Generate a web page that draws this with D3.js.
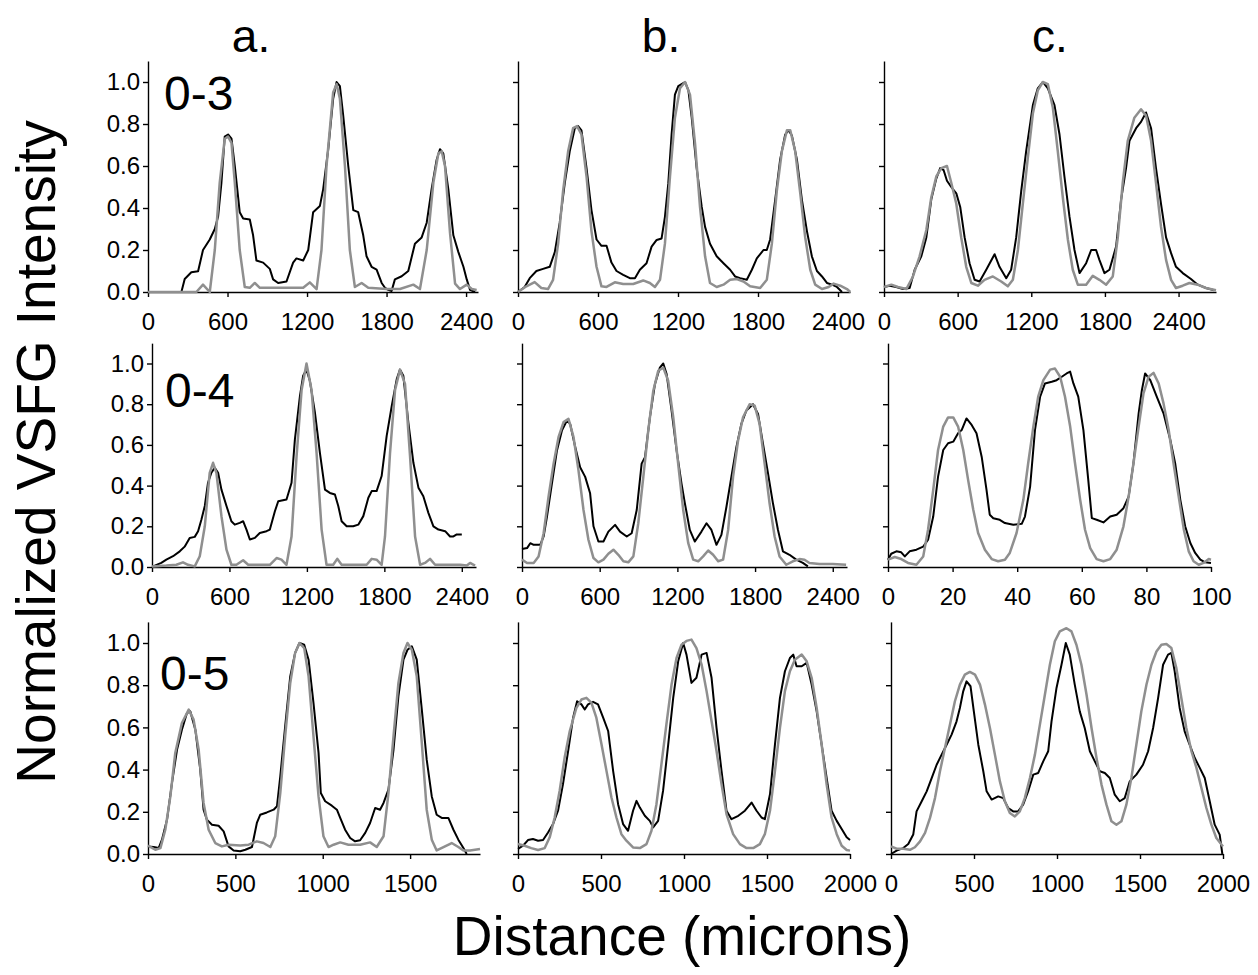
<!DOCTYPE html>
<html>
<head>
<meta charset="utf-8">
<script src="https://cdn.jsdelivr.net/npm/d3@7"></script>
<style>
  body { margin: 0; background: #fff; }
  svg { display: block; font-family: 'Liberation Sans', Arial, sans-serif; }
  .axis path, .axis line { stroke: #000; stroke-width: 1.4; }
  .axis text { font-family: 'Liberation Sans', Arial, sans-serif; font-size: 24px; fill: #000; }
</style>
</head>
<body>
<div id="chart"></div>
<script>
// tick labels
const yTicks = [0, 0.2, 0.4, 0.6, 0.8, 1.0];
const ticks600 = [0, 600, 1200, 1800, 2400];
const ticks500 = [0, 500, 1000, 1500];
const ticks500b = [0, 500, 1000, 1500, 2000];
const ticks20 = [0, 20, 40, 60, 80, 100];
const colTitles = ['a.', 'b.', 'c.'];
const rowLabels = ['0-3', '0-4', '0-5'];

// series: [distance, normalized intensity]
const a1Black = [[0,0],[252,0],[277,.062],[327,.094],[378,.099],[415,.2],[466,.25],[504,.3],[529,.36],[554,.52],[579,.74],[604,.75],[630,.73],[655,.6],[692,.38],[718,.35],[768,.345],[793,.27],[818,.15],[869,.14],[919,.11],[944,.06],[982,.043],[1045,.05],[1095,.14],[1120,.16],[1171,.15],[1209,.2],[1246,.38],[1297,.41],[1322,.49],[1360,.68],[1397,.92],[1423,1.0],[1448,.98],[1473,.84],[1511,.6],[1549,.39],[1586,.38],[1624,.27],[1649,.17],[1687,.12],[1725,.107],[1763,.043],[1788,.02],[1813,.01],[1838,.005],[1863,.06],[1914,.075],[1964,.1],[2014,.23],[2065,.26],[2103,.33],[2140,.49],[2178,.63],[2203,.68],[2228,.66],[2266,.49],[2304,.27],[2342,.19],[2380,.12],[2405,.06],[2430,.01],[2468,0]];
const a1Gray = [[0,0],[365,0],[415,.035],[466,0],[504,.2],[541,.52],[579,.73],[604,.74],[630,.71],[655,.52],[692,.2],[730,.024],[768,.02],[806,.043],[844,.02],[944,.02],[1045,.02],[1171,.02],[1221,.046],[1272,.014],[1309,.2],[1347,.6],[1397,.95],[1423,.99],[1448,.92],[1486,.6],[1523,.2],[1561,.024],[1612,.043],[1662,.02],[1800,.014],[1901,.014],[2002,.035],[2052,.014],[2103,.2],[2153,.52],[2191,.66],[2216,.67],[2241,.6],[2279,.28],[2317,.04],[2354,.014],[2405,.035],[2443,.014],[2480,.01]];

const b1Black = [[0,0],[50,.024],[88,.066],[138,.1],[188,.11],[238,.12],[276,.19],[313,.33],[351,.52],[388,.67],[426,.78],[451,.79],[476,.77],[514,.59],[551,.39],[589,.25],[626,.22],[664,.22],[701,.14],[739,.1],[789,.082],[839,.066],[877,.066],[914,.106],[964,.137],[1002,.216],[1040,.248],[1077,.255],[1102,.358],[1127,.516],[1152,.75],[1177,.94],[1202,.98],[1227,.99],[1253,1.0],[1278,.96],[1303,.83],[1340,.59],[1378,.405],[1403,.31],[1440,.23],[1490,.17],[1541,.137],[1591,.106],[1628,.074],[1666,.066],[1716,.058],[1754,.106],[1791,.16],[1841,.2],[1866,.2],[1891,.25],[1929,.44],[1966,.63],[2004,.75],[2029,.77],[2054,.745],[2092,.63],[2129,.44],[2167,.29],[2204,.17],[2242,.1],[2280,.074],[2317,.043],[2355,.035],[2392,.024],[2430,0]];
const b1Gray = [[0,0],[63,.027],[125,.047],[175,.019],[225,.014],[263,.058],[301,.23],[338,.48],[376,.67],[413,.78],[443,.79],[476,.75],[514,.55],[551,.29],[589,.12],[626,.027],[664,.024],[726,.046],[789,.038],[864,.038],[939,.055],[989,.043],[1027,.024],[1065,.058],[1102,.23],[1140,.55],[1177,.83],[1215,.97],[1253,1.0],[1290,.94],[1328,.705],[1365,.405],[1403,.17],[1440,.043],[1490,.024],[1541,.035],[1591,.058],[1641,.062],[1691,.05],[1741,.027],[1816,.019],[1866,.058],[1904,.23],[1941,.48],[1979,.67],[2017,.77],[2042,.77],[2079,.67],[2117,.47],[2154,.26],[2192,.106],[2229,.035],[2280,.014],[2330,.024],[2367,.04],[2417,.03],[2467,.014],[2492,0]];

const c1Black = [[0,.024],[46,.03],[100,.024],[155,.014],[209,.019],[250,.106],[304,.17],[345,.26],[385,.44],[426,.54],[458,.59],[486,.58],[513,.53],[548,.5],[589,.47],[621,.405],[657,.26],[697,.137],[738,.058],[779,.05],[833,.106],[901,.18],[941,.12],[996,.066],[1036,.106],[1077,.26],[1118,.48],[1158,.67],[1213,.89],[1253,.97],[1294,1.0],[1335,.97],[1389,.89],[1430,.75],[1470,.55],[1511,.36],[1552,.2],[1593,.09],[1647,.137],[1688,.2],[1728,.2],[1755,.153],[1796,.09],[1837,.106],[1891,.216],[1932,.44],[1972,.59],[2000,.72],[2054,.78],[2094,.81],[2135,.855],[2176,.78],[2216,.59],[2257,.42],[2298,.26],[2339,.185],[2379,.12],[2434,.09],[2501,.062],[2556,.035],[2623,.019],[2691,.008]];
const c1Gray = [[0,.024],[60,.035],[114,.024],[182,.014],[236,.074],[290,.17],[345,.295],[385,.45],[426,.55],[467,.59],[513,.6],[548,.52],[589,.42],[629,.26],[670,.12],[711,.043],[765,.03],[819,.058],[887,.074],[955,.05],[1009,.027],[1050,.058],[1091,.2],[1131,.42],[1172,.64],[1213,.85],[1253,.96],[1294,1.0],[1335,.99],[1375,.88],[1416,.67],[1457,.45],[1498,.25],[1538,.106],[1579,.035],[1647,.035],[1701,.077],[1755,.058],[1810,.035],[1864,.074],[1905,.26],[1945,.52],[1986,.72],[2040,.83],[2094,.87],[2135,.84],[2176,.72],[2216,.52],[2257,.31],[2298,.153],[2339,.058],[2379,.019],[2434,.03],[2488,.043],[2556,.035],[2623,.019],[2705,.008]];

const a2Black = [[8,.003],[72,.02],[111,.036],[163,.053],[215,.077],[253,.1],[292,.143],[331,.148],[357,.176],[383,.233],[409,.3],[434,.414],[460,.463],[486,.488],[512,.463],[538,.38],[577,.3],[615,.225],[641,.208],[680,.217],[706,.225],[732,.184],[758,.135],[797,.143],[835,.167],[887,.176],[913,.184],[952,.274],[978,.323],[1042,.332],[1081,.414],[1107,.627],[1146,.84],[1171,.94],[1197,.97],[1223,.915],[1262,.76],[1301,.56],[1340,.38],[1378,.364],[1417,.356],[1443,.3],[1469,.225],[1508,.2],[1559,.2],[1598,.208],[1637,.25],[1676,.34],[1702,.373],[1740,.373],[1779,.447],[1818,.644],[1857,.79],[1896,.923],[1921,.97],[1947,.94],[1986,.71],[2025,.512],[2064,.39],[2102,.348],[2141,.266],[2180,.2],[2219,.184],[2271,.176],[2309,.15],[2335,.15],[2361,.16],[2400,.16]];
const a2Gray = [[0,.003],[111,.007],[189,.011],[240,.023],[279,.011],[331,.003],[370,.053],[409,.2],[447,.463],[473,.512],[499,.463],[538,.25],[577,.085],[615,.011],[654,.011],[706,.033],[745,.011],[835,.011],[913,.011],[965,.044],[1003,.036],[1042,.011],[1081,.15],[1120,.545],[1159,.87],[1197,1.0],[1236,.87],[1275,.56],[1314,.184],[1352,.011],[1404,.011],[1435,.04],[1469,.011],[1559,.011],[1663,.011],[1702,.04],[1740,.036],[1779,.011],[1805,.15],[1844,.56],[1883,.87],[1921,.97],[1960,.9],[1999,.545],[2038,.15],[2077,.011],[2115,.02],[2154,.04],[2193,.011],[2283,.011],[2335,.011],[2387,.011],[2439,.007],[2464,.02],[2503,.007]];

const b2Black = [[0,.088],[39,.093],[64,.117],[90,.109],[141,.109],[167,.15],[193,.248],[231,.41],[270,.573],[308,.67],[347,.72],[372,.703],[411,.59],[449,.49],[488,.443],[526,.362],[552,.2],[590,.125],[629,.125],[667,.174],[719,.207],[757,.174],[809,.15],[847,.166],[886,.28],[924,.508],[950,.54],[988,.736],[1027,.9],[1065,.98],[1091,1.0],[1117,.948],[1155,.77],[1194,.573],[1232,.41],[1258,.313],[1296,.182],[1335,.125],[1386,.174],[1425,.215],[1463,.182],[1502,.109],[1540,.158],[1579,.296],[1617,.443],[1656,.59],[1694,.703],[1733,.769],[1784,.8],[1823,.752],[1861,.606],[1900,.46],[1938,.313],[1977,.182],[2015,.077],[2066,.06],[2118,.036],[2169,.02],[2208,.003]];
const b2Gray = [[0,.036],[39,.02],[90,.02],[128,.052],[167,.166],[205,.345],[244,.508],[282,.638],[321,.712],[359,.728],[398,.638],[436,.476],[475,.28],[513,.134],[552,.044],[590,.023],[629,.036],[667,.065],[706,.085],[744,.06],[783,.028],[821,.023],[860,.052],[898,.215],[937,.443],[975,.67],[1014,.866],[1052,.964],[1091,.98],[1129,.915],[1168,.736],[1206,.508],[1245,.28],[1284,.117],[1322,.036],[1361,.028],[1399,.052],[1438,.081],[1476,.06],[1515,.028],[1553,.036],[1592,.182],[1630,.443],[1669,.622],[1707,.736],[1758,.8],[1797,.793],[1835,.703],[1874,.508],[1912,.313],[1951,.15],[1989,.052],[2041,.011],[2092,.028],[2143,.039],[2182,.036],[2220,.02],[2297,.015],[2400,.015],[2503,.011]];

const c2Black = [[0,.036],[1.0,.065],[2.6,.077],[4.1,.072],[5.2,.052],[6.7,.077],[8.8,.085],[10.9,.1],[12.4,.134],[14.0,.248],[15.5,.444],[17.1,.575],[18.6,.608],[20.2,.616],[21.7,.657],[22.8,.673],[24.3,.73],[25.9,.698],[27.4,.657],[29.0,.542],[30.5,.379],[31.5,.257],[32.6,.24],[34.6,.232],[36.2,.216],[38.8,.208],[41.4,.212],[42.4,.248],[44.0,.395],[45.5,.673],[47.1,.837],[48.6,.902],[50.7,.91],[52.2,.918],[53.8,.935],[55.3,.951],[56.4,.96],[57.4,.902],[58.9,.837],[60.5,.673],[62.0,.428],[63.1,.24],[64.6,.232],[66.7,.219],[68.8,.248],[70.8,.257],[72.9,.289],[74.5,.346],[76.0,.51],[77.6,.755],[78.6,.869],[79.6,.951],[81.2,.918],[83.2,.837],[85.3,.755],[87.4,.624],[88.9,.51],[90.5,.33],[92.0,.2],[93.6,.118],[95.1,.069],[96.7,.036],[98.2,.023],[100,.02]];
const c2Gray = [[0,.036],[2.1,.049],[4.1,.039],[6.2,.02],[8.8,.011],[10.9,.052],[12.4,.183],[14.0,.379],[15.5,.575],[17.1,.69],[18.6,.735],[20.2,.735],[21.7,.69],[23.3,.575],[24.8,.428],[26.4,.281],[27.9,.167],[30.0,.085],[32.1,.039],[34.1,.028],[36.2,.036],[37.7,.069],[39.8,.167],[41.9,.33],[43.4,.51],[45.0,.69],[46.5,.837],[48.1,.918],[50.2,.97],[51.7,.975],[53.3,.935],[54.8,.837],[56.4,.69],[57.9,.51],[59.5,.33],[61.0,.183],[62.6,.093],[64.6,.039],[66.7,.028],[68.8,.039],[70.8,.085],[72.9,.2],[74.5,.346],[76.0,.51],[77.6,.69],[79.1,.853],[80.7,.935],[82.2,.954],[83.8,.902],[85.3,.804],[86.9,.673],[88.4,.51],[90.0,.346],[91.6,.183],[93.1,.077],[94.6,.028],[96.2,.011],[97.7,.02],[99.3,.039],[100,.036]];

const a3Black = [[0,.036],[32,.033],[61,.028],[80,.068],[109,.163],[137,.336],[166,.494],[194,.589],[223,.668],[242,.676],[271,.589],[299,.4],[318,.21],[337,.163],[366,.139],[404,.134],[433,.107],[461,.036],[490,.017],[528,.013],[557,.02],[595,.033],[623,.147],[642,.186],[680,.197],[719,.21],[738,.226],[757,.368],[785,.605],[814,.842],[842,.953],[867,1.0],[894,.992],[919,.921],[947,.716],[976,.479],[989,.289],[1014,.25],[1052,.229],[1081,.21],[1100,.171],[1128,.115],[1157,.076],[1185,.06],[1214,.065],[1243,.1],[1271,.147],[1300,.218],[1328,.21],[1348,.242],[1376,.305],[1405,.494],[1433,.747],[1462,.921],[1485,.968],[1510,.984],[1538,.921],[1567,.684],[1595,.447],[1624,.273],[1652,.186],[1681,.171],[1719,.171],[1748,.115],[1776,.068],[1805,.028],[1824,0]];
const a3Gray = [[0,.04],[42,.02],[71,.028],[99,.115],[128,.273],[156,.479],[194,.621],[233,.684],[261,.637],[290,.494],[318,.242],[347,.115],[385,.052],[423,.036],[461,.044],[528,.04],[576,.044],[623,.06],[661,.052],[700,.033],[728,.084],[757,.289],[785,.558],[814,.81],[842,.953],[867,1.0],[894,.976],[919,.842],[947,.558],[976,.273],[1004,.084],[1033,.033],[1062,.044],[1100,.055],[1147,.044],[1214,.044],[1271,.055],[1309,.033],[1348,.084],[1376,.289],[1405,.558],[1433,.81],[1462,.953],[1485,1.0],[1510,.968],[1538,.842],[1567,.526],[1595,.21],[1624,.068],[1652,.017],[1691,.033],[1738,.052],[1776,.033],[1805,.017],[1843,.017],[1900,.024]];

const b3Black = [[0,.024],[30,.039],[60,.066],[90,.071],[121,.063],[151,.066],[181,.102],[211,.142],[241,.205],[271,.331],[302,.488],[332,.646],[356,.724],[382,.709],[402,.685],[422,.709],[452,.721],[482,.709],[513,.646],[543,.583],[573,.394],[603,.236],[633,.142],[663,.11],[693,.205],[714,.252],[734,.22],[764,.181],[794,.157],[814,.126],[844,.157],[874,.3],[905,.52],[935,.74],[965,.913],[995,1.0],[1015,.945],[1045,.811],[1075,.835],[1106,.945],[1136,.953],[1166,.835],[1196,.598],[1226,.394],[1256,.205],[1286,.165],[1327,.181],[1367,.205],[1407,.244],[1437,.205],[1467,.173],[1487,.165],[1518,.283],[1548,.52],[1578,.74],[1608,.866],[1638,.929],[1658,.945],[1678,.89],[1709,.89],[1739,.906],[1769,.803],[1799,.677],[1829,.52],[1859,.362],[1889,.205],[1920,.157],[1950,.118],[1980,.079],[2000,.066]];
const b3Gray = [[0,.047],[40,.039],[80,.028],[121,.019],[161,.028],[191,.079],[221,.173],[251,.3],[281,.457],[312,.583],[352,.693],[382,.732],[412,.74],[442,.717],[472,.646],[503,.52],[533,.394],[563,.268],[593,.173],[623,.094],[653,.063],[693,.031],[734,.028],[774,.047],[804,.11],[834,.236],[864,.425],[894,.614],[925,.803],[955,.929],[985,.992],[1015,1.01],[1045,1.016],[1075,.976],[1106,.898],[1136,.772],[1166,.63],[1196,.488],[1226,.331],[1256,.189],[1296,.094],[1337,.047],[1377,.028],[1417,.028],[1457,.047],[1487,.094],[1518,.205],[1548,.394],[1578,.598],[1608,.772],[1638,.866],[1668,.921],[1709,.945],[1739,.913],[1769,.835],[1799,.693],[1829,.52],[1859,.331],[1889,.173],[1920,.094],[1950,.039],[1980,.019],[2000,.016]];

const c3Black = [[0,0],[34,.016],[74,.028],[104,.047],[134,.092],[154,.202],[185,.25],[215,.297],[245,.36],[275,.423],[305,.471],[335,.518],[365,.566],[395,.629],[415,.692],[435,.771],[455,.818],[479,.795],[499,.676],[526,.518],[556,.392],[576,.297],[606,.258],[646,.273],[676,.265],[706,.218],[736,.202],[766,.202],[796,.234],[826,.297],[857,.376],[887,.384],[917,.439],[947,.487],[967,.629],[997,.787],[1027,.897],[1053,1.0],[1077,.945],[1107,.803],[1137,.676],[1167,.597],[1198,.487],[1228,.439],[1258,.392],[1288,.384],[1318,.36],[1348,.281],[1378,.25],[1408,.265],[1438,.344],[1478,.376],[1518,.423],[1549,.487],[1579,.597],[1609,.739],[1639,.897],[1669,.945],[1689,.953],[1709,.866],[1739,.692],[1769,.581],[1799,.518],[1830,.455],[1860,.408],[1890,.36],[1920,.25],[1950,.139],[1980,.092],[1996,0]];
const c3Gray = [[0,.036],[34,.025],[74,.025],[114,.02],[144,.032],[175,.06],[205,.1],[235,.171],[265,.265],[295,.392],[325,.502],[355,.613],[385,.724],[415,.803],[445,.85],[475,.863],[506,.85],[536,.803],[566,.708],[596,.597],[626,.471],[656,.344],[686,.25],[716,.194],[746,.178],[776,.202],[806,.265],[837,.36],[867,.471],[897,.613],[927,.755],[957,.897],[987,1.008],[1017,1.055],[1057,1.07],[1087,1.055],[1117,.992],[1147,.897],[1178,.755],[1208,.597],[1238,.455],[1268,.329],[1298,.234],[1328,.155],[1358,.139],[1388,.155],[1418,.234],[1448,.36],[1478,.518],[1508,.676],[1539,.803],[1569,.897],[1599,.96],[1629,.992],[1659,.995],[1689,.976],[1719,.881],[1749,.739],[1779,.597],[1810,.487],[1840,.408],[1870,.313],[1900,.218],[1930,.139],[1960,.076],[2000,.036]];

////////////////////// layout //////////////////////
const width = 1258, height = 975;
// pixel rows: y of 0.0 and of 1.0
const rows = [{y0: 292, y1: 82}, {y0: 567, y1: 363.5}, {y0: 854, y1: 643}];
const panels = [
  {row: 0, col: 0, xMax: 2490, ticks: ticks600, left: 148, right: 478, black: a1Black, gray: a1Gray},
  {row: 0, col: 1, xMax: 2490, ticks: ticks600, left: 518, right: 850, black: b1Black, gray: b1Gray},
  {row: 0, col: 2, xMax: 2705, ticks: ticks600, left: 884, right: 1216, black: c1Black, gray: c1Gray},
  {row: 1, col: 0, xMax: 2510, ticks: ticks600, left: 152, right: 476, black: a2Black, gray: a2Gray},
  {row: 1, col: 1, xMax: 2510, ticks: ticks600, left: 522, right: 847, black: b2Black, gray: b2Gray},
  {row: 1, col: 2, xMax: 100, ticks: ticks20, left: 888, right: 1211, black: c2Black, gray: c2Gray},
  {row: 2, col: 0, xMax: 1900, ticks: ticks500, left: 148, right: 480, black: a3Black, gray: a3Gray},
  {row: 2, col: 1, xMax: 2000, ticks: ticks500b, left: 518, right: 850, black: b3Black, gray: b3Gray},
  {row: 2, col: 2, xMax: 2000, ticks: ticks500b, left: 891, right: 1223, black: c3Black, gray: c3Gray}
];

const svg = d3.select('#chart').append('svg')
  .attr('width', width).attr('height', height)
  .attr('viewBox', [0, 0, width, height]);
svg.append('rect').attr('width', width).attr('height', height).attr('fill', '#fff');

panels.forEach(p => {
  const r = rows[p.row];
  const xScale = d3.scaleLinear().domain([0, p.xMax]).range([p.left, p.right]);
  const yScale = d3.scaleLinear().domain([0, 1]).range([r.y0, r.y1]);
  const yTop = yScale(1.1);
  const g = svg.append('g');

  const xAxis = d3.axisBottom(xScale).tickValues(p.ticks)
    .tickSize(5).tickSizeOuter(0).tickPadding(16).tickFormat(d3.format('d'));
  const yAxis = d3.axisLeft(yScale.copy().domain([0, 1.1]).range([r.y0, yTop])).tickValues(yTicks)
    .tickSize(5).tickSizeOuter(0).tickPadding(3)
    .tickFormat(p.col === 0 ? d3.format('.1f') : () => '');

  g.append('g').attr('class', 'axis')
    .attr('transform', `translate(0,${r.y0})`).call(xAxis);
  g.append('g').attr('class', 'axis')
    .attr('transform', `translate(${p.left},0)`).call(yAxis);

  const line = d3.line().x(d => xScale(d[0])).y(d => yScale(d[1]));
  g.append('path').datum(p.black).attr('d', line)
    .attr('fill', 'none').attr('stroke', '#000').attr('stroke-width', 2).attr('stroke-linejoin', 'round');
  g.append('path').datum(p.gray).attr('d', line)
    .attr('fill', 'none').attr('stroke', '#8f8f8f').attr('stroke-width', 2.5).attr('stroke-linejoin', 'round');
});

// column titles
const titleX = [251, 661, 1050];
svg.selectAll('.colTitle').data(colTitles).enter().append('text')
  .attr('class', 'colTitle')
  .attr('x', (d, i) => titleX[i]).attr('y', 52)
  .attr('text-anchor', 'middle').attr('font-size', 46)
  .text(d => d);

// row labels
const labelPos = [[164, 110], [165, 407], [160, 690]];
svg.selectAll('.rowLabel').data(rowLabels).enter().append('text')
  .attr('class', 'rowLabel')
  .attr('x', (d, i) => labelPos[i][0]).attr('y', (d, i) => labelPos[i][1])
  .attr('font-size', 48)
  .text(d => d);

// axis titles
svg.append('text')
  .attr('transform', 'translate(55,452) rotate(-90)')
  .attr('text-anchor', 'middle').attr('font-size', 55)
  .text('Normalized VSFG Intensity');
svg.append('text')
  .attr('x', 682).attr('y', 955)
  .attr('text-anchor', 'middle').attr('font-size', 55)
  .text('Distance (microns)');
</script>
</body>
</html>
